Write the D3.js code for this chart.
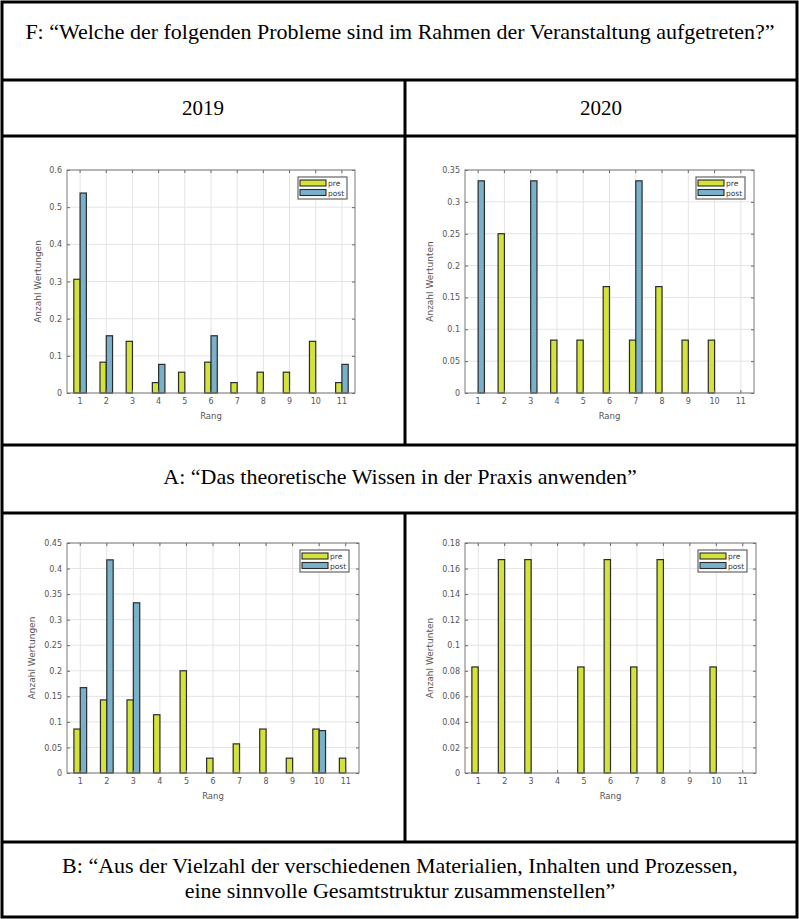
<!DOCTYPE html>
<html><head><meta charset="utf-8">
<script src="https://cdn.jsdelivr.net/npm/d3@7"></script>
<style>body{margin:0;background:#fff}svg{display:block}</style></head>
<body><svg id="c" width="799" height="919"></svg>
<script>
// ---------- data ----------
const ranks = [1,2,3,4,5,6,7,8,9,10,11];
const seriesNames = ["pre","post"];
const F2019pre  = [0.306,0.083,0.139,0.028,0.056,0.083,0.028,0.056,0.056,0.139,0.028];
const F2019post = [0.538,0.154,0,0.077,0,0.154,0,0,0,0,0.077];
const F2020pre  = [0,0.25,0,0.083,0.083,0.167,0.083,0.167,0.083,0.083,0];
const F2020post = [0.333,0,0.333,0,0,0,0.333,0,0,0,0];
const A2019pre  = [0.086,0.143,0.143,0.114,0.2,0.029,0.057,0.086,0.029,0.086,0.029];
const A2019post = [0.167,0.417,0.333,0,0,0,0,0,0,0.083,0];
const A2020pre  = [0.083,0.167,0.167,0,0.083,0.167,0.083,0.167,0,0.083,0];
const A2020post = [0,0,0,0,0,0,0,0,0,0,0];
const yTicksF2019 = [0,0.1,0.2,0.3,0.4,0.5,0.6];
const yTicksF2020 = [0,0.05,0.1,0.15,0.2,0.25,0.3,0.35];
const yTicksA2019 = [0,0.05,0.1,0.15,0.2,0.25,0.3,0.35,0.4,0.45];
const yTicksA2020 = [0,0.02,0.04,0.06,0.08,0.1,0.12,0.14,0.16,0.18];
const titleF = "F: \u201CWelche der folgenden Probleme sind im Rahmen der Veranstaltung aufgetreten?\u201D";
const yearLabels = ["2019","2020"];
const titleA = "A: \u201CDas theoretische Wissen in der Praxis anwenden\u201D";
const titleB = ["B: \u201CAus der Vielzahl der verschiedenen Materialien, Inhalten und Prozessen,",
                "eine sinnvolle Gesamtstruktur zusammenstellen\u201D"];
const xLabel = "Rang";
const yLabels = ["Anzahl Wertungen","Anzahl Wertunten"];

// ---------- styles ----------
const colors = {pre:"#d3e33a", post:"#79b1cb"};
const svg = d3.select("#c");
const serif = "'Liberation Serif','Times New Roman',serif";
const sans = "'DejaVu Sans',sans-serif";

// ---------- table ----------
const T = svg.append("g").attr("stroke","#000").attr("stroke-width",3).attr("fill","none");
T.append("rect").attr("x",2).attr("y",2).attr("width",795).attr("height",915);
[80,136,445,513,842].forEach(y=>T.append("line").attr("x1",2).attr("x2",797).attr("y1",y).attr("y2",y));
T.append("line").attr("x1",405).attr("x2",405).attr("y1",80).attr("y2",445);
T.append("line").attr("x1",405).attr("x2",405).attr("y1",513).attr("y2",842);

function ttext(str,x,y,size){
  svg.append("text").attr("x",x).attr("y",y).attr("text-anchor","middle")
    .attr("font-family",serif).attr("font-size",size).attr("fill","#000").text(str);
}
ttext(titleF,400,39,22);
ttext(yearLabels[0],203,115,21);
ttext(yearLabels[1],601,115,21);
ttext(titleA,400,484,22);
ttext(titleB[0],400,873,22);
ttext(titleB[1],400,898,22);

// ---------- charts ----------
const panels = [
  {pre:F2019pre, post:F2019post, ticks:yTicksF2019, ylab:yLabels[0], x0:67, x1:355, y0:170, y1:393, ylx:41, leg:[298,177]},
  {pre:F2020pre, post:F2020post, ticks:yTicksF2020, ylab:yLabels[1], x0:465, x1:754, y0:170, y1:393, ylx:433, leg:[696,177]},
  {pre:A2019pre, post:A2019post, ticks:yTicksA2019, ylab:yLabels[0], x0:67, x1:359, y0:543, y1:773, ylx:35, leg:[300,550]},
  {pre:A2020pre, post:A2020post, ticks:yTicksA2020, ylab:yLabels[1], x0:465, x1:756, y0:543, y1:773, ylx:433, leg:[698,550]},
];
const fmt = d => String(+d.toFixed(3));

panels.forEach(p=>{
  const g = svg.append("g");
  const x = d3.scaleBand().domain(ranks).range([p.x0,p.x1]).padding(0);
  const bw = x.bandwidth();
  const xs = d3.scaleBand().domain(seriesNames).range([0.26*bw,0.74*bw]).padding(0);
  const ymax = p.ticks[p.ticks.length-1];
  const y = d3.scaleLinear().domain([0,ymax]).range([p.y1,p.y0]);
  // grid
  g.append("g").selectAll("line").data(ranks).join("line")
    .attr("x1",d=>x(d)+bw/2).attr("x2",d=>x(d)+bw/2).attr("y1",p.y0).attr("y2",p.y1)
    .attr("stroke","#e4e4e4").attr("stroke-width",1);
  g.append("g").selectAll("line").data(p.ticks).join("line")
    .attr("x1",p.x0).attr("x2",p.x1).attr("y1",d=>y(d)).attr("y2",d=>y(d))
    .attr("stroke","#e4e4e4").attr("stroke-width",1);
  // bars
  const rows = [];
  ranks.forEach((r,i)=>{ rows.push({r,s:"pre",v:p.pre[i]}); rows.push({r,s:"post",v:p.post[i]}); });
  g.append("g").selectAll("rect").data(rows).join("rect")
    .attr("x",d=>x(d.r)+xs(d.s)).attr("width",xs.bandwidth())
    .attr("y",d=>y(d.v)).attr("height",d=>y(0)-y(d.v))
    .attr("fill",d=>colors[d.s]).attr("stroke","#2b2b2b").attr("stroke-width",1.2);
  // axes
  const tickCol = "#555";
  const xa = g.append("g").attr("transform",`translate(0,${p.y1})`)
    .call(d3.axisBottom(x).tickSizeInner(-3).tickSizeOuter(0).tickPadding(5));
  const xt = g.append("g").attr("transform",`translate(0,${p.y0})`)
    .call(d3.axisTop(x).tickSizeInner(-3).tickSizeOuter(0).tickFormat(""));
  const ya = g.append("g").attr("transform",`translate(${p.x0},0)`)
    .call(d3.axisLeft(y).tickValues(p.ticks).tickFormat(fmt).tickSizeInner(-3).tickSizeOuter(0).tickPadding(5));
  const yr = g.append("g").attr("transform",`translate(${p.x1},0)`)
    .call(d3.axisRight(y).tickValues(p.ticks).tickFormat("").tickSizeInner(-3).tickSizeOuter(0));
  [xa,xt,ya,yr].forEach(a=>{
    a.select(".domain").remove();
    a.selectAll("line").attr("stroke","#666");
    a.selectAll("text").attr("font-family",sans).attr("font-size",8).attr("fill",tickCol);
  });
  g.append("rect").attr("x",p.x0).attr("y",p.y0).attr("width",p.x1-p.x0).attr("height",p.y1-p.y0)
    .attr("fill","none").attr("stroke","#7a7a7a").attr("stroke-width",1);
  // labels
  g.append("text").attr("x",(p.x0+p.x1)/2).attr("y",p.y1+26).attr("text-anchor","middle")
    .attr("font-family",sans).attr("font-size",8.5).attr("fill","#555").text(xLabel);
  g.append("text").attr("transform",`translate(${p.ylx},${(p.y0+p.y1)/2}) rotate(-90)`)
    .attr("text-anchor","middle").attr("font-family",sans).attr("font-size",9).attr("fill","#555").text(p.ylab);
  // legend
  const [lx,ly] = p.leg;
  const lg = g.append("g").attr("transform",`translate(${lx},${ly})`);
  lg.append("rect").attr("width",49).attr("height",22).attr("fill","#fff").attr("stroke","#666").attr("stroke-width",1.2);
  seriesNames.forEach((s,i)=>{
    lg.append("rect").attr("x",2).attr("y",3+i*9.5).attr("width",26).attr("height",6)
      .attr("fill",colors[s]).attr("stroke","#2b2b2b").attr("stroke-width",1.1);
    lg.append("text").attr("x",30).attr("y",9+i*9.5).attr("font-family",sans).attr("font-size",7.5)
      .attr("fill","#333").text(s);
  });
});
</script></body></html>
